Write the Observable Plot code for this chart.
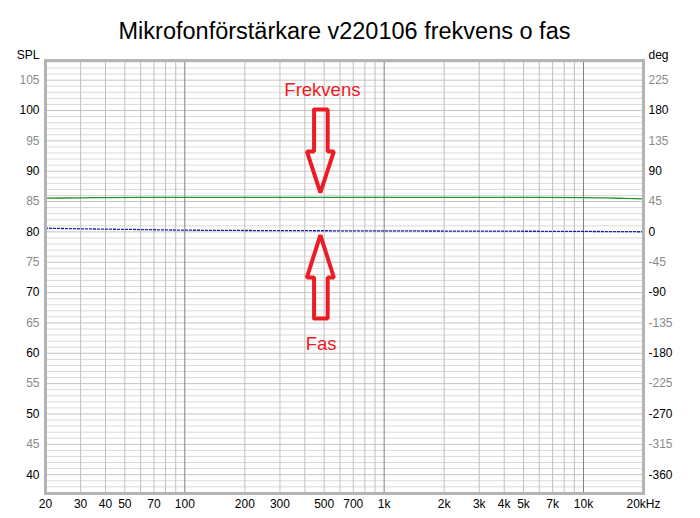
<!DOCTYPE html>
<html>
<head>
<meta charset="utf-8">
<script src="https://cdn.jsdelivr.net/npm/d3@7"></script>
<script src="https://cdn.jsdelivr.net/npm/@observablehq/plot@0.6"></script>
<style>
  html, body { margin: 0; padding: 0; background: #fff; }
  #chart svg { display: block; }
</style>
</head>
<body>
<div id="chart"></div>
<script>
const title = "Mikrofonförstärkare v220106 frekvens o fas";

// Frequency response (SPL, dB)
const magFreq = [20, 30, 40, 60, 100, 200, 500, 1000, 2000, 5000, 10000, 13000, 16000, 20000];
const magDb   = [85.56, 85.62, 85.66, 85.69, 85.7, 85.7, 85.7, 85.7, 85.7, 85.69, 85.66, 85.6, 85.53, 85.45];

// Phase (degrees)
const phaseFreq = [20, 30, 40, 60, 100, 200, 500, 1000, 2000, 5000, 10000, 20000];
const phaseDeg  = [5.5, 4.6, 4.1, 3.5, 2.6, 2.1, 1.7, 1.5, 1.3, 1.0, 0.7, 0.2];

// Axis ticks
const xTicks = [20, 30, 40, 50, 70, 100, 200, 300, 500, 700, 1000, 2000, 3000, 4000, 5000, 7000, 10000, 20000];
const xTickLabels = ["20", "30", "40", "50", "70", "100", "200", "300", "500", "700", "1k", "2k", "3k", "4k", "5k", "7k", "10k", "20kHz"];
const splTicks = [40, 45, 50, 55, 60, 65, 70, 75, 80, 85, 90, 95, 100, 105];

// Annotations (frequency in Hz, level in dB)
const downArrowFreq = [445, 520.7, 520.7, 559.4, 478.6, 409.6, 445, 445];
const downArrowDb   = [100.16, 100.16, 93.25, 93.25, 86.49, 93.25, 93.25, 100.16];
const upArrowFreq   = [445, 520.7, 520.7, 559.4, 478.6, 409.6, 445, 445];
const upArrowDb     = [65.73, 65.73, 72.49, 72.49, 79.49, 72.49, 72.49, 65.73];
const annoLabels = ["Frekvens", "Fas"];
const annoFreq   = [489.8, 482.6];
const annoDb     = [103.44, 61.6];

// Build tables
const mag = magFreq.map((f, i) => ({f, v: magDb[i]}));
const phase = phaseFreq.map((f, i) => ({f, deg: phaseDeg[i]}));
const downArrow = downArrowFreq.map((f, i) => ({f, v: downArrowDb[i]}));
const upArrow = upArrowFreq.map((f, i) => ({f, v: upArrowDb[i]}));
const anno = annoLabels.map((t, i) => ({t, f: annoFreq[i], v: annoDb[i]}));

const gridFreqs = [];
for (const dec of [10, 100, 1000, 10000]) {
  for (let m = 1; m <= 9; m++) {
    const f = m * dec;
    if (f > 20 && f < 20000) gridFreqs.push(f);
  }
}
const decades = [100, 1000, 10000];
const minorFreqs = gridFreqs.filter(f => !decades.includes(f));
const dbLines = d3.range(37, 109, 1);
const dbMinor = dbLines.filter(d => d % 5 !== 0);
const dbMajor = dbLines.filter(d => d % 5 === 0);

const red = "#ed1c24";
const plot = Plot.plot({
  width: 700,
  height: 518,
  marginLeft: 45,
  marginRight: 57,
  marginTop: 60,
  marginBottom: 25,
  style: {fontFamily: "'Liberation Sans', Arial, sans-serif", fontSize: "12px", background: "#fff", overflow: "visible"},
  x: {type: "log", domain: [20, 20000], axis: null},
  y: {domain: [36.9, 108.24], axis: null},
  marks: [
    Plot.ruleY(dbMinor, {y: d => d, stroke: "#dadada", strokeWidth: 1}),
    Plot.ruleY(dbMajor, {y: d => d, stroke: "#c4c4c4", strokeWidth: 1}),
    Plot.ruleX(minorFreqs, {x: d => d, stroke: "#c0c0c0", strokeWidth: 1}),
    Plot.ruleX(decades, {x: d => d, stroke: "#808080", strokeWidth: 1}),
    Plot.line(mag, {x: "f", y: "v", stroke: "#22962a", strokeWidth: 1.3, curve: "monotone-x"}),
    Plot.line(phase, {x: "f", y: d => 80 + d.deg / 9, stroke: "#1c1c9c", strokeWidth: 1.3, strokeDasharray: "2,2", curve: "monotone-x"}),
    Plot.line(downArrow, {x: "f", y: "v", stroke: red, strokeWidth: 4, strokeLinejoin: "miter"}),
    Plot.line(upArrow, {x: "f", y: "v", stroke: red, strokeWidth: 4, strokeLinejoin: "miter"}),
    Plot.text(anno, {x: "f", y: "v", text: "t", fill: red, fontSize: 18.5}),
    Plot.frame({stroke: "#b4b4b4", strokeWidth: 3}),
    // x tick labels
    Plot.text(xTicks, {x: d => d, text: (d, i) => xTickLabels[i], frameAnchor: "bottom", dy: 14, fill: "#000"}),
    // left SPL labels
    Plot.text(splTicks.filter(d => d % 10 === 0), {y: d => d, text: d => String(d), frameAnchor: "left", textAnchor: "end", dx: -6, fill: "#000"}),
    Plot.text(splTicks.filter(d => d % 10 !== 0), {y: d => d, text: d => String(d), frameAnchor: "left", textAnchor: "end", dx: -6, fill: "#8a8a8a"}),
    // right degree labels
    Plot.text(splTicks.filter(d => d % 10 === 0), {y: d => d, text: d => String((d - 80) * 9), frameAnchor: "right", textAnchor: "start", dx: 5, fill: "#000"}),
    Plot.text(splTicks.filter(d => d % 10 !== 0), {y: d => d, text: d => String((d - 80) * 9), frameAnchor: "right", textAnchor: "start", dx: 5, fill: "#8a8a8a"}),
    // axis labels
    Plot.text(["SPL"], {text: d => d, frameAnchor: "top-left", textAnchor: "end", dx: -6, dy: -10, fill: "#000"}),
    Plot.text(["deg"], {text: d => d, frameAnchor: "top-right", textAnchor: "start", dx: 5, dy: -10, fill: "#000"}),
    // title
    Plot.text([title], {text: d => d, frameAnchor: "top", dy: -38, fontSize: 23.5, fill: "#000"})
  ]
});
document.getElementById("chart").appendChild(plot);
</script>
</body>
</html>
